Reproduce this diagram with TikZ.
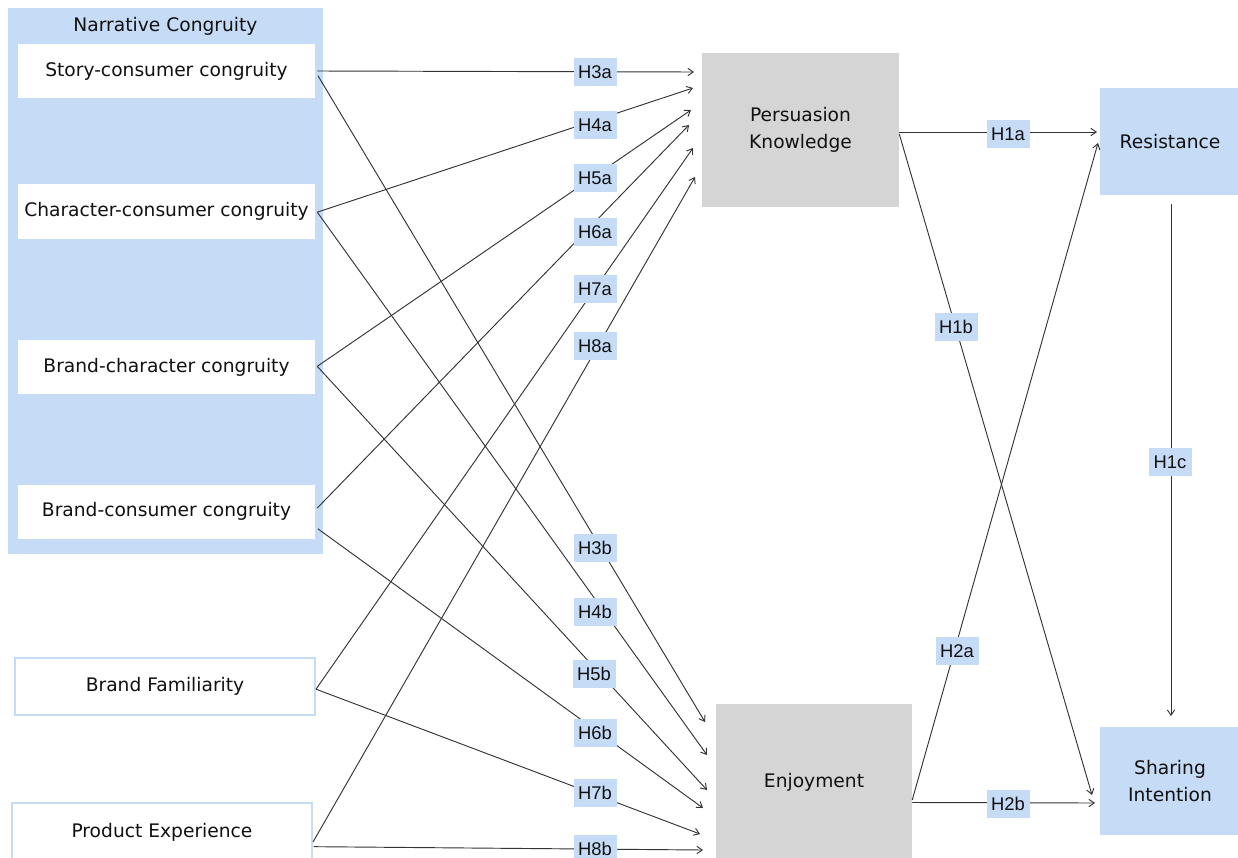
\documentclass[tikz,border=0pt]{standalone}
\usepackage{fontspec}
\setmainfont{DejaVu Sans}
\newfontfamily\labfont{Liberation Sans}
\usetikzlibrary{arrows.meta}
\definecolor{lblue}{HTML}{C5DBF6}
\definecolor{lgray}{HTML}{D5D5D5}
\definecolor{ink}{HTML}{111111}
\definecolor{edge}{HTML}{333333}
\begin{document}
\begin{tikzpicture}[x=0.75pt,y=-0.75pt,
  box/.style={inner sep=0pt, align=center, text=ink, font=\fontsize{14}{20}\selectfont},
  wbox/.style={box, fill=white, minimum width=222.75pt},
  obox/.style={box, fill=white, draw=lblue, line width=1.5pt, minimum width=225pt},
  gbox/.style={box, fill=lgray},
  bbox/.style={box, fill=lblue},
  lab/.style={fill=lblue, inner sep=0pt, minimum width=32.25pt, minimum height=21.5pt, font=\labfont\fontsize{13.8}{15}\selectfont, text=ink},
  arr/.style={draw=edge, line width=0.7pt, -{Straight Barb[length=4pt,width=5.5pt]}},
]
\useasboundingbox (0,0) rectangle (1238,857);
% left group
\node[bbox, minimum width=236.25pt, minimum height=409.5pt] (nc) at (165.5,281) {};
\node[box] (nct) at (165.5,26) {Narrative Congruity};
\node[wbox, minimum height=40.5pt] (s1) at (166.5,71) {Story-consumer congruity};
\node[wbox, minimum height=41.25pt] (s2) at (166.5,211.5) {Character-consumer congruity};
\node[wbox, minimum height=40.5pt] (s3) at (166.5,367) {Brand-character congruity};
\node[wbox, minimum height=40.5pt] (s4) at (166.5,511.5) {Brand-consumer congruity};
\node[obox, minimum height=42.75pt] (bf) at (165,686.5) {Brand Familiarity};
\node[obox, minimum height=43.5pt] (pe) at (162,832) {Product Experience};
% mediators and outcomes
\node[gbox, minimum width=147.75pt, minimum height=115.5pt] (pk) at (800.5,130) {Persuasion\\Knowledge};
\node[gbox, minimum width=147pt, minimum height=117.75pt] (en) at (814,782.5) {Enjoyment};
\node[bbox, minimum width=105pt, minimum height=80.25pt] (re) at (1170,141.5) {Resistance};
\node[bbox, minimum width=105pt, minimum height=81pt] (si) at (1170,781) {Sharing\\Intention};
% arrow tip points
\coordinate (pk1) at (694,72);
\coordinate (pk2) at (693,88);
\coordinate (pk3) at (691,110);
\coordinate (pk4) at (689,125);
\coordinate (pk5) at (693,148);
\coordinate (pk6) at (695,177);
\coordinate (en1) at (705,722);
\coordinate (en2) at (707,755);
\coordinate (en3) at (707,790);
\coordinate (en4) at (703,808);
\coordinate (en5) at (700,834);
\coordinate (en6) at (703,850);
\coordinate (re1) at (1097,132);
\coordinate (re2) at (1098,143);
\coordinate (si1) at (1092,795);
\coordinate (si2) at (1095,803);
\coordinate (si3) at (1171,716);
% a paths
\draw[arr] ([xshift=1.5pt]s1.east) -- (pk1);
\draw[arr] ([xshift=1.5pt,yshift=-0.5pt]s2.east) -- (pk2);
\draw[arr] ([xshift=1.5pt,yshift=0.5pt]s3.east) -- (pk3);
\draw[arr] ([xshift=1.5pt,yshift=2.6pt]s4.east) -- (pk4);
\draw[arr] ([yshift=-2pt]bf.east) -- (pk5);
\draw[arr] ([yshift=-7.5pt]pe.east) -- (pk6);
% b paths
\draw[arr] ([xshift=2pt,yshift=-3.5pt]s1.east) -- (en1);
\draw[arr] ([xshift=1.5pt,yshift=-0.5pt]s2.east) -- (en2);
\draw[arr] ([xshift=1.5pt,yshift=0.5pt]s3.east) -- (en3);
\draw[arr] ([xshift=2pt,yshift=-13pt]s4.east) -- (en4);
\draw[arr] ([yshift=-2pt]bf.east) -- (en5);
\draw[arr] ([xshift=0.5pt,yshift=-11pt]pe.east) -- (en6);
% right paths
\draw[arr] ([yshift=-1.5pt]pk.east) -- (re1);
\draw[arr] ([yshift=-3pt]pk.east) -- (si1);
\draw[arr] ([yshift=-13pt]en.east) -- (re2);
\draw[arr] ([yshift=-15pt]en.east) -- (si2);
\draw[arr] ([xshift=0.75pt,yshift=-6.5pt]re.south) -- (si3);
% labels
\node[lab] (l3a) at (595,72) {H3a};
\node[lab] (l4a) at (595,125) {H4a};
\node[lab] (l5a) at (595,178) {H5a};
\node[lab] (l6a) at (595,232) {H6a};
\node[lab] (l7a) at (595,289) {H7a};
\node[lab] (l8a) at (595,346) {H8a};
\node[lab] (l3b) at (595,548) {H3b};
\node[lab] (l4b) at (595,612) {H4b};
\node[lab] (l5b) at (594,674) {H5b};
\node[lab] (l6b) at (595,733) {H6b};
\node[lab] (l7b) at (595,793) {H7b};
\node[lab] (l8b) at (595,849) {H8b};
\node[lab] (l1a) at (1008,134) {H1a};
\node[lab] (l1b) at (956,327) {H1b};
\node[lab] (l2a) at (957,651) {H2a};
\node[lab] (l2b) at (1008,804) {H2b};
\node[lab] (l1c) at (1170,462) {H1c};
\end{tikzpicture}
\end{document}
